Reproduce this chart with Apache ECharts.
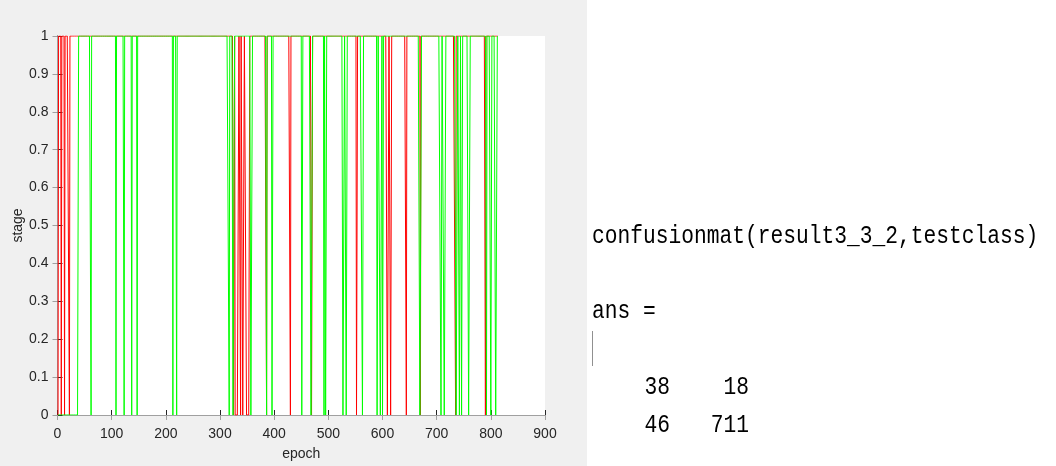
<!DOCTYPE html>
<html>
<head>
<meta charset="utf-8">
<script src="https://cdn.jsdelivr.net/npm/echarts@6/dist/echarts.min.js"></script>
<style>
html,body{margin:0;padding:0;}
body{width:1056px;height:466px;background:linear-gradient(to right,#f0f0f0 0,#f0f0f0 587px,#ffffff 587px);}
#c{width:1056px;height:466px;}
</style>
</head>
<body>
<div id="c"></div>
<script>
// ---- data ----
const epochCount = 813;
const xTicks = [0,100,200,300,400,500,600,700,800,900];
const yTicks = [0,0.1,0.2,0.3,0.4,0.5,0.6,0.7,0.8,0.9,1];
// epoch ranges [from,to] where the red series (result) is 0
const redZeros = [[1,1],[7,7],[13,13],[22,22],[325,326],[328,334],[338,338],[342,344],[349,354],[386,386],[430,430],[469,470],[552,553],[609,611],[615,616],[644,644],[670,670],[735,735],[790,790]];
// epoch ranges [from,to] where the green series (testclass) is 0
const greenZeros = [[1,38],[62,62],[108,108],[123,123],[137,137],[147,147],[213,213],[220,220],[317,317],[324,326],[357,359],[386,386],[396,397],[451,452],[468,470],[492,492],[495,496],[527,529],[533,534],[563,564],[590,591],[596,598],[600,601],[669,671],[708,709],[714,716],[736,738],[742,743],[746,747],[759,761],[792,792],[800,801],[809,811]];
const cmdText = 'confusionmat(result3_3_2,testclass)';
const ansText = 'ans =';
const matrix = [[38,18],[46,711]];

function build(zeros){
  const out = [];
  for (let e = 1; e <= epochCount; e++){
    let v = 1;
    for (const [a,b] of zeros){ if (e >= a && e <= b){ v = 0; break; } }
    out.push([e, v]);
  }
  return out;
}

const chart = echarts.init(document.getElementById('c'), null, {renderer:'canvas'});
const labelFont = {fontFamily:'Liberation Sans', fontSize:14, color:'#262626'};
const mono = {fontFamily:'Liberation Mono', fontSize:25, fill:'#000', verticalAlign:'middle'};
const SX = 0.85;
const g = [];
g.push({type:'text', x:592, y:236, scaleX:SX, style:Object.assign({text:cmdText, align:'left'}, mono)});
g.push({type:'text', x:592, y:311, scaleX:SX, style:Object.assign({text:ansText, align:'left'}, mono)});
g.push({type:'line', shape:{x1:592.5,y1:331,x2:592.5,y2:366}, style:{stroke:'#909090', lineWidth:1}});
const rowY = [387, 425];
const colRight = [670, 749];
matrix.forEach((row,i)=>row.forEach((v,j)=>{
  g.push({type:'text', x:colRight[j], y:rowY[i], scaleX:SX, style:Object.assign({text:String(v), align:'right'}, mono)});
}));

chart.setOption({
  animation:false,
  backgroundColor:'transparent',
  grid:{left:57.5, right:511, top:36, bottom:48, show:true, backgroundColor:'#ffffff', borderWidth:0},
  xAxis:[
    {type:'value', min:0, max:900, interval:100, position:'bottom',
     name:'epoch', nameLocation:'middle', nameGap:32, nameTextStyle:labelFont,
     axisLine:{lineStyle:{color:'#262626', width:1}},
     axisTick:{inside:true, length:5, lineStyle:{color:'#262626'}},
     axisLabel:Object.assign({margin:12, formatter:v=>xTicks.includes(v)?String(v):''}, labelFont),
     splitLine:{show:false}},
    {type:'value', min:0, max:900, interval:100, position:'top',
     axisLine:{lineStyle:{color:'#a0a0a0', width:1}},
     axisTick:{inside:true, length:5, lineStyle:{color:'#a0a0a0'}},
     axisLabel:{show:false}, splitLine:{show:false}}
  ],
  yAxis:[
    {type:'value', min:0, max:1, interval:0.1, position:'left',
     name:'stage', nameLocation:'middle', nameGap:31, nameTextStyle:labelFont,
     axisLine:{show:true, lineStyle:{color:'#262626', width:1}},
     axisTick:{show:true, inside:true, length:5, lineStyle:{color:'#262626'}},
     axisLabel:Object.assign({margin:9, formatter:v=>{const t=yTicks.find(k=>Math.abs(k-v)<1e-6);return t===undefined?'':String(t);}}, labelFont),
     splitLine:{show:false}},
    {type:'value', min:0, max:1, interval:0.1, position:'right',
     axisLine:{show:true, lineStyle:{color:'#a0a0a0', width:1}},
     axisTick:{show:true, inside:true, length:5, lineStyle:{color:'#a0a0a0'}},
     axisLabel:{show:false}, splitLine:{show:false}}
  ],
  series:[
    {type:'line', name:'result', data:build(redZeros), showSymbol:false, symbol:'none', sampling:null,
     lineStyle:{color:'#ff0000', width:1}, z:3},
    {type:'line', name:'testclass', data:build(greenZeros), showSymbol:false, symbol:'none', sampling:null,
     lineStyle:{color:'#00ff00', width:1}, z:4}
  ],
  graphic:g
});
</script>
</body>
</html>
